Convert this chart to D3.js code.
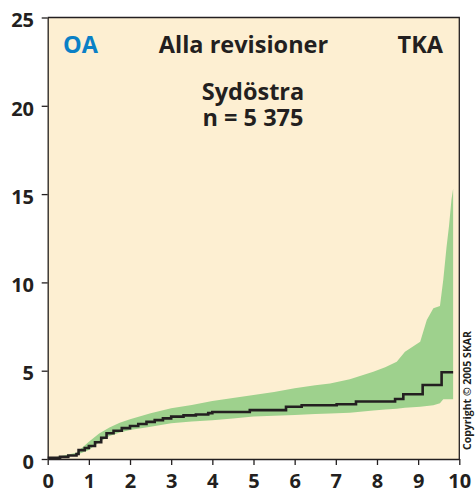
<!DOCTYPE html>
<html>
<head>
<meta charset="utf-8">
<script src="https://cdn.jsdelivr.net/npm/d3@7"></script>
<style>
  body { margin: 0; background: #fff; }
  svg { display: block; font-family: "Open Sans", sans-serif; }
</style>
</head>
<body>
<svg id="chart" width="475" height="494"></svg>
<script>
// Kaplan-Meier-like curve (years vs % revised)
const lineX = [0, 0.3, 0.5, 0.7, 0.75, 0.9, 1.0, 1.15, 1.3, 1.43, 1.6, 1.8, 2.0, 2.2, 2.4, 2.6, 2.8, 3.0, 3.3, 3.6, 3.9, 4.0, 4.91, 5.79, 6.17, 7.02, 7.49, 8.44, 8.64, 9.11, 9.57, 9.85];
const lineY = [0.07, 0.12, 0.2, 0.28, 0.5, 0.62, 0.74, 0.95, 1.2, 1.46, 1.6, 1.75, 1.87, 1.98, 2.1, 2.2, 2.3, 2.4, 2.47, 2.52, 2.6, 2.66, 2.77, 2.96, 3.04, 3.1, 3.26, 3.4, 3.67, 4.19, 4.91, 4.91];

// confidence band
const bandX = [0, 0.3, 0.7, 1.0, 1.25, 1.5, 1.75, 2.0, 2.5, 3.0, 3.5, 4.0, 4.5, 5.0, 5.5, 6.0, 6.5, 6.86, 7.34, 7.91, 8.2, 8.48, 8.68, 9.05, 9.21, 9.37, 9.53, 9.61, 9.69, 9.75, 9.81, 9.85];
const bandLow = [0, 0.08, 0.22, 0.51, 0.95, 1.3, 1.5, 1.64, 1.83, 2.02, 2.12, 2.2, 2.3, 2.4, 2.45, 2.49, 2.55, 2.57, 2.62, 2.75, 2.8, 2.85, 2.9, 2.96, 3.0, 3.05, 3.15, 3.38, 3.38, 3.38, 3.38, 3.38];
const bandHigh = [0, 0.15, 0.35, 0.98, 1.45, 1.79, 2.05, 2.25, 2.59, 2.87, 3.06, 3.28, 3.45, 3.62, 3.8, 4.0, 4.18, 4.28, 4.51, 4.94, 5.2, 5.5, 6.07, 6.64, 7.87, 8.53, 8.66, 10.14, 12.0, 13.2, 14.7, 15.3];

const xTicks = [0, 1, 2, 3, 4, 5, 6, 7, 8, 9, 10];
const yTicks = [0, 5, 10, 15, 20, 25];

const svg = d3.select('#chart');
const mLeft = 47.7, mRight = 459.3, mTop = 17.5, mBottom = 459;

const x = d3.scaleLinear().domain([0, 10]).range([mLeft, mRight]);
const y = d3.scaleLinear().domain([0, 25]).range([mBottom, mTop]);

// background
svg.append('rect')
    .attr('x', mLeft).attr('y', mTop)
    .attr('width', mRight - mLeft).attr('height', mBottom - mTop)
    .attr('fill', '#fdefd2');

// band
const band = bandX.map((d, i) => ({ x: d, lo: bandLow[i], hi: bandHigh[i] }));
svg.append('path')
    .datum(band)
    .attr('fill', '#9ed18d')
    .attr('d', d3.area().x(d => x(d.x)).y0(d => y(d.lo)).y1(d => y(d.hi)));

// line
const pts = lineX.map((d, i) => [d, lineY[i]]);
svg.append('path')
    .datum(pts)
    .attr('fill', 'none')
    .attr('stroke', '#231f20')
    .attr('stroke-width', 2.6)
    .attr('d', d3.line().x(d => x(d[0])).y(d => y(d[1])).curve(d3.curveStepAfter));

// frame top / right
svg.append('path')
    .attr('d', `M${mLeft},${mTop}H${mRight}V${mBottom}`)
    .attr('fill', 'none').attr('stroke', '#231f20').attr('stroke-width', 1.3);

// axes
const xAxis = svg.append('g')
    .attr('transform', `translate(0,${mBottom})`)
    .call(d3.axisBottom(x).tickValues(xTicks).tickSize(6).tickSizeOuter(0));
const yAxis = svg.append('g')
    .attr('transform', `translate(${mLeft},0)`)
    .call(d3.axisLeft(y).tickValues(yTicks).tickSize(6).tickSizeOuter(0));

[xAxis, yAxis].forEach(a => {
    a.select('.domain').attr('stroke', '#231f20').attr('stroke-width', 1.3);
    a.selectAll('.tick line').attr('stroke', '#231f20').attr('stroke-width', 1.3);
    a.selectAll('.tick text')
        .attr('fill', '#231f20')
        .attr('font-family', '"Open Sans", sans-serif')
        .attr('font-weight', 700)
        .attr('font-size', 20);
});
xAxis.selectAll('.tick text').attr('y', 15).attr('dy', '0.71em');
yAxis.selectAll('.tick text').attr('x', -13.7).attr('dy', '0.46em');

// titles
const t = svg.append('g').attr('font-weight', 700).attr('fill', '#231f20');
t.append('text').attr('x', 63).attr('y', 53).attr('font-size', 23.5).attr('fill', '#0a80c6').text('OA');
t.append('text').attr('x', 243.5).attr('y', 53).attr('font-size', 23.5).attr('text-anchor', 'middle').text('Alla revisioner');
t.append('text').attr('x', 443).attr('y', 53).attr('font-size', 23.5).attr('text-anchor', 'end').text('TKA');
t.append('text').attr('x', 253).attr('y', 100).attr('font-size', 23.5).attr('text-anchor', 'middle').text('Sydöstra');
t.append('text').attr('x', 253).attr('y', 126).attr('font-size', 23.5).attr('text-anchor', 'middle').text('n = 5 375');

svg.append('text')
    .attr('transform', 'translate(471,450) rotate(-90)')
    .attr('font-size', 10.5)
    .attr('font-weight', 700)
    .attr('fill', '#231f20')
    .text('Copyright © 2005 SKAR');
</script>
</body>
</html>
